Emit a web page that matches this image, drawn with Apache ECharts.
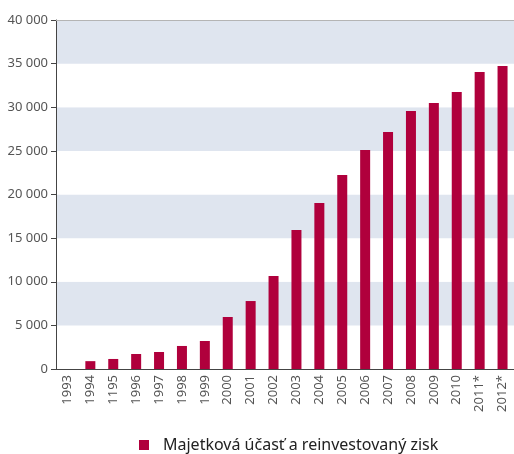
<!DOCTYPE html>
<html>
<head>
<meta charset="utf-8">
<script src="https://cdn.jsdelivr.net/npm/echarts@6/dist/echarts.min.js"></script>
<style>
  html, body { margin: 0; padding: 0; background: #fff; }
  #chart { width: 514px; height: 454px; }
</style>
</head>
<body>
<div id="chart"></div>
<script>
// roky (kategorie) a hodnoty
const years = ['1993', '1994', '1195', '1996', '1997', '1998', '1999', '2000', '2001', '2002',
  '2003', '2004', '2005', '2006', '2007', '2008', '2009', '2010', '2011*', '2012*']
const zisk = [0, 900, 1150, 1720, 1950, 2640, 3210, 5960, 7790, 10660,
  15930, 19030, 22230, 25100, 27160, 29570, 30490, 31750, 34040, 34730]
const seriesName = 'Majetková účasť a reinvestovaný zisk'

const fmt = (v) => String(v).replace(/\B(?=(\d{3})+(?!\d))/g, ' ')

const myChart = echarts.init(document.getElementById('chart'))
const option = {
  animation: false,
  textStyle: { fontFamily: 'Noto Sans' },
  legend: {
    data: [seriesName],
    top: 432,
    left: 134,
    itemWidth: 10,
    itemHeight: 10,
    icon: 'rect',
    textStyle: { fontSize: 16, color: '#222', padding: [0, 0, 0, 9] },
  },
  grid: {
    left: 56,
    right: 0,
    top: 20,
    bottom: 85,
  },
  xAxis: [
    {
      type: 'category',
      data: years,
      axisLine: { lineStyle: { color: '#444' } },
      axisTick: { length: 5, lineStyle: { color: '#444' } },
      axisLabel: { rotate: 90, fontSize: 13, color: '#555', margin: 6 },
    },
    {
      type: 'category',
      position: 'top',
      data: years,
      axisLine: { lineStyle: { color: '#b4b4b4', width: 1 } },
      axisTick: { show: false },
      axisLabel: { show: false },
    },
  ],
  yAxis: {
    type: 'value',
    min: 0,
    max: 40000,
    interval: 5000,
    axisLine: { show: true, lineStyle: { color: '#444' } },
    axisTick: { show: true, length: 5, lineStyle: { color: '#444' } },
    axisLabel: { fontSize: 13, color: '#555', margin: 8, formatter: fmt },
    splitLine: { show: false },
    splitArea: { show: true, areaStyle: { color: ['#ffffff', '#dfe5ef'] } },
  },
  series: [
    {
      name: seriesName,
      type: 'bar',
      data: zisk,
      barWidth: 10,
      itemStyle: { color: '#b0003c' },
    },
  ],
}
myChart.setOption(option)
</script>
</body>
</html>
